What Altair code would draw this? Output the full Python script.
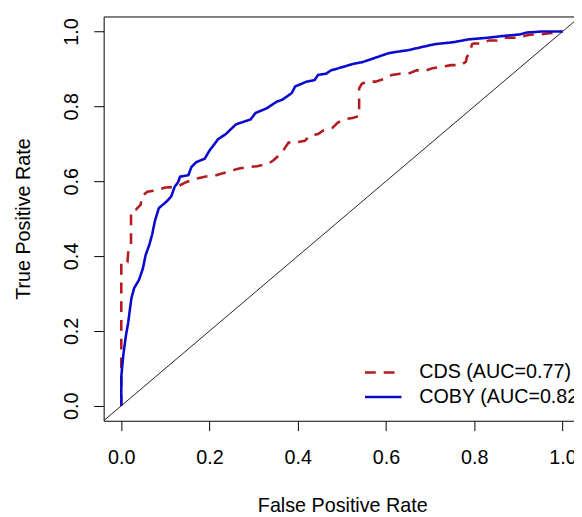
import altair as alt
import pandas as pd

cds_label = "CDS (AUC=0.77)"
coby_label = "COBY (AUC=0.82)"

cds_fpr = [0, 0, 0.014, 0.016, 0.022, 0.022, 0.033, 0.044, 0.046, 0.059, 0.081, 0.100,
           0.126, 0.148, 0.174, 0.189, 0.215, 0.230, 0.252, 0.267, 0.290, 0.308, 0.334,
           0.345, 0.356, 0.367, 0.379, 0.394, 0.416, 0.427, 0.446, 0.457, 0.479, 0.490,
           0.505, 0.524, 0.539, 0.539, 0.545, 0.557, 0.576, 0.598, 0.613, 0.632, 0.650,
           0.669, 0.691, 0.706, 0.729, 0.747, 0.769, 0.781, 0.783, 0.788, 0.795, 0.799,
           0.818, 0.833, 0.851, 0.866, 0.900, 0.920, 0.933, 0.948, 0.970, 0.993, 1.0]
cds_tpr = [0, 0.384, 0.384, 0.415, 0.428, 0.520, 0.524, 0.537, 0.559, 0.572, 0.576, 0.583,
           0.585, 0.598, 0.608, 0.612, 0.616, 0.621, 0.629, 0.634, 0.638, 0.640, 0.647,
           0.656, 0.668, 0.682, 0.703, 0.703, 0.708, 0.722, 0.726, 0.735, 0.743, 0.756,
           0.765, 0.769, 0.774, 0.848, 0.860, 0.866, 0.866, 0.874, 0.884, 0.887, 0.887,
           0.896, 0.896, 0.902, 0.906, 0.910, 0.910, 0.919, 0.932, 0.940, 0.966, 0.968,
           0.968, 0.976, 0.976, 0.983, 0.983, 0.990, 0.992, 0.992, 0.995, 0.998, 1.0]

coby_fpr = [0, 0, 0.0045, 0.0104, 0.0156, 0.019, 0.023, 0.029, 0.040, 0.049, 0.055, 0.064,
            0.070, 0.076, 0.085, 0.103, 0.113, 0.121, 0.129, 0.133, 0.152, 0.159, 0.170,
            0.189, 0.200, 0.211, 0.219, 0.237, 0.252, 0.260, 0.293, 0.304, 0.330, 0.353,
            0.364, 0.386, 0.394, 0.420, 0.438, 0.446, 0.464, 0.475, 0.502, 0.524, 0.546,
            0.569, 0.591, 0.606, 0.621, 0.650, 0.680, 0.710, 0.751, 0.788, 0.829, 0.866,
            0.903, 0.918, 0.955, 1.0]
coby_tpr = [0, 0.078, 0.135, 0.187, 0.222, 0.253, 0.288, 0.314, 0.336, 0.367, 0.402, 0.432,
            0.458, 0.493, 0.528, 0.546, 0.559, 0.585, 0.598, 0.612, 0.616, 0.638, 0.651,
            0.660, 0.682, 0.699, 0.712, 0.726, 0.743, 0.752, 0.765, 0.782, 0.795, 0.813,
            0.817, 0.835, 0.853, 0.866, 0.870, 0.884, 0.887, 0.896, 0.905, 0.913, 0.918,
            0.927, 0.936, 0.942, 0.945, 0.950, 0.958, 0.966, 0.971, 0.979, 0.983, 0.988,
            0.992, 0.997, 1.0, 1.0]

diag_vals = [-0.04, 1.04]
x_ticks = [0.0, 0.2, 0.4, 0.6, 0.8, 1.0]
y_ticks = [0.0, 0.2, 0.4, 0.6, 0.8, 1.0]

RED = "#B31B1F"
BLUE = "#0A0ACF"
FONT = "Liberation Sans"

rows = []
for i, (a, b) in enumerate(zip(cds_fpr, cds_tpr)):
    rows.append({"fpr": a, "tpr": b, "model": cds_label, "ord": i})
for i, (a, b) in enumerate(zip(coby_fpr, coby_tpr)):
    rows.append({"fpr": a, "tpr": b, "model": coby_label, "ord": i})
curves = pd.DataFrame(rows)
diag_df = pd.DataFrame({"fpr": diag_vals, "tpr": diag_vals})

xscale = alt.Scale(domain=[-0.04, 1.0259], nice=False, zero=False)
yscale = alt.Scale(domain=[-0.04, 1.04], nice=False, zero=False)

legend_kw = dict(
    orient="none", legendX=273, legendY=350.5, title=None,
    symbolType="M-2,0H2", symbolSize=342, symbolStrokeWidth=2.5,
    labelFont=FONT, labelFontSize=20, labelColor="black", labelLimit=400,
    labelOffset=26, rowPadding=4, padding=0, symbolOffset=0,
)

y_axis = alt.Axis(orient="left", values=y_ticks, format=".1f", grid=False,
                  domainColor="black", domainWidth=1, tickColor="black", tickWidth=1,
                  tickSize=10, labelFont=FONT, labelFontSize=20, labelColor="black",
                  labelAngle=270, labelAlign="center", labelBaseline="alphabetic",
                  labelPadding=17, labelFlush=False, labelOverlap=False,
                  title="True Positive Rate", titleFont=FONT, titleFontSize=20,
                  titleFontWeight="normal", titleColor="black", titleAngle=270,
                  titleX=-75, titleY=205, titleBaseline="alphabetic", titleAlign="center")

diag_layer = alt.Chart(diag_df).mark_line(color="#222222", strokeWidth=1, clip=True).encode(
    x=alt.X("fpr:Q", scale=xscale,
            axis=alt.Axis(orient="top", labels=False, ticks=False, domain=True,
                          domainColor="black", domainWidth=1, grid=False, title=None)),
    y=alt.Y("tpr:Q", scale=yscale, axis=y_axis),
)

curve_layer = alt.Chart(curves).mark_line(strokeWidth=2.6, clip=True).encode(
    x=alt.X("fpr:Q", scale=xscale,
            axis=alt.Axis(orient="bottom", values=x_ticks, format=".1f", grid=False,
                          domainColor="black", domainWidth=1, tickColor="black", tickWidth=1,
                          tickSize=10, labelFont=FONT, labelFontSize=20, labelColor="black",
                          labelPadding=33.5, labelBaseline="alphabetic", labelFlush=False,
                          labelOverlap=False, title="False Positive Rate", titleFont=FONT,
                          titleFontSize=20, titleFontWeight="normal", titleColor="black",
                          titleX=242, titleY=92, titleBaseline="alphabetic", titleAlign="center")),
    y=alt.Y("tpr:Q", scale=yscale, axis=y_axis),
    color=alt.Color("model:N", scale=alt.Scale(domain=[cds_label, coby_label], range=[RED, BLUE]),
                    legend=alt.Legend(**legend_kw)),
    strokeDash=alt.StrokeDash("model:N",
                              scale=alt.Scale(domain=[cds_label, coby_label], range=[[11, 8], [1, 0]]),
                              legend=alt.Legend(**legend_kw)),
    order=alt.Order("ord:Q"),
)

chart = alt.layer(diag_layer, curve_layer).resolve_axis(x="independent").properties(
    width=477, height=410,
    padding={"left": 97, "top": 5, "right": 0, "bottom": 94},
    autosize=alt.AutoSizeParams(type="none"),
    background="white",
).configure_view(stroke=None)

chart.save("out.html", embed_options={"renderer": "svg", "actions": False})
